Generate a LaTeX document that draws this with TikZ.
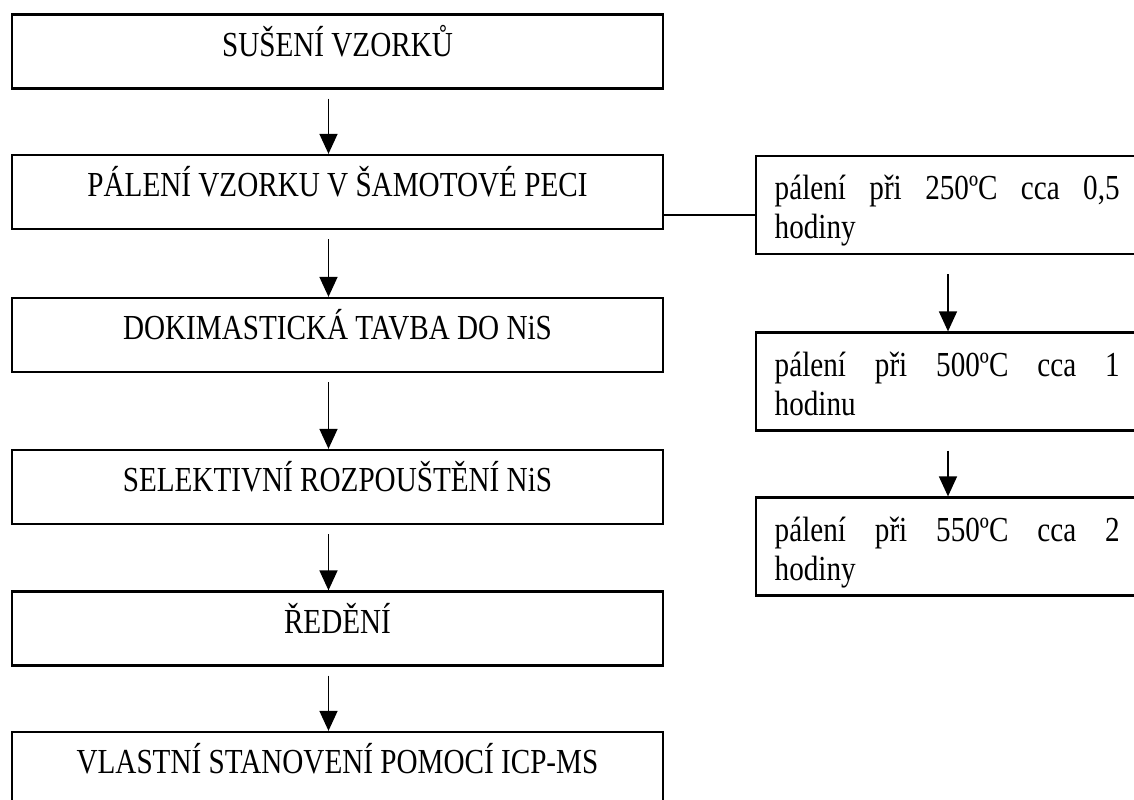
\documentclass[tikz,border=0pt]{standalone}
\usepackage{fontspec}
\setmainfont{Liberation Serif}[FakeStretch=0.83]
\usetikzlibrary{arrows.meta}
\tikzset{stepbox/.style={draw,line width=1.3pt,minimum width=13.02cm,minimum height=1.48cm,
    inner sep=0pt,text height=0.5cm,text depth=0.3cm,font=\fontsize{20}{22}\selectfont},
  tempbox/.style={draw,line width=1.3pt,minimum width=7.68cm,minimum height=1.96cm,inner sep=0pt},
  temptext/.style={align=left,inner sep=0pt,anchor=west,font=\fontsize{20}{22}\selectfont},
  flow/.style={-{Triangle[width=0.36cm,length=0.4cm]},line width=0.9pt,shorten <=#1},
  flow/.default=0.18cm
}

\begin{document}
\begin{tikzpicture}[x=0.02cm,y=-0.02cm]
                \useasboundingbox (0,0) rectangle (1134,800);
                \clip (0,0) rectangle (1134,800);

                % Main steps
                \node[stepbox] (dry) at (337.5,51.5) {SUŠENÍ VZORKŮ};
                \node[stepbox] (burn) at (337.5,192) {PÁLENÍ VZORKU V ŠAMOTOVÉ PECI};
                \node[stepbox] (melt) at (337.5,335) {DOKIMASTICKÁ TAVBA DO NiS};
                \node[stepbox] (diss) at (337.5,487) {SELEKTIVNÍ ROZPOUŠTĚNÍ NiS};
                \node[stepbox] (dil) at (337.5,628.5) {ŘEDĚNÍ};
                \node[stepbox] (icp) at (337.5,769) {VLASTNÍ STANOVENÍ POMOCÍ ICP-MS};

                \foreach \a/\b in {dry/burn,burn/melt,melt/diss,diss/dil,dil/icp}
                    \draw[flow] ([xshift=-0.18cm]\a.south) -- ([xshift=-0.18cm]\b.north);

                % Burning stages
                \node[tempbox] (t250) at (948,205) {};
                \node[tempbox] (t500) at (948,381.5) {};
                \node[tempbox] (t550) at (948,546.5) {};

                \node[temptext] (t250txt) at ([xshift=0.39cm,yshift=-0.13cm]t250.west)
                    {\makebox[6.9cm][s]{pálení při 250ºC cca 0,5}\strut\\hodiny\strut};
                \node[temptext] (t500txt) at ([xshift=0.39cm,yshift=-0.13cm]t500.west)
                    {\makebox[6.9cm][s]{pálení při 500ºC cca 1}\strut\\hodinu\strut};
                \node[temptext] (t550txt) at ([xshift=0.39cm,yshift=-0.13cm]t550.west)
                    {\makebox[6.9cm][s]{pálení při 550ºC cca 2}\strut\\hodiny\strut};

                \draw[flow=0.38cm] (t250) -- (t500);
                \draw[flow=0.38cm] (t500) -- (t550);

                % Link
                \coordinate (link) at ([yshift=-0.2cm]t250.west);
                \draw[line width=0.9pt] (link) -- (link -| burn.east);
\end{tikzpicture}
\end{document}
